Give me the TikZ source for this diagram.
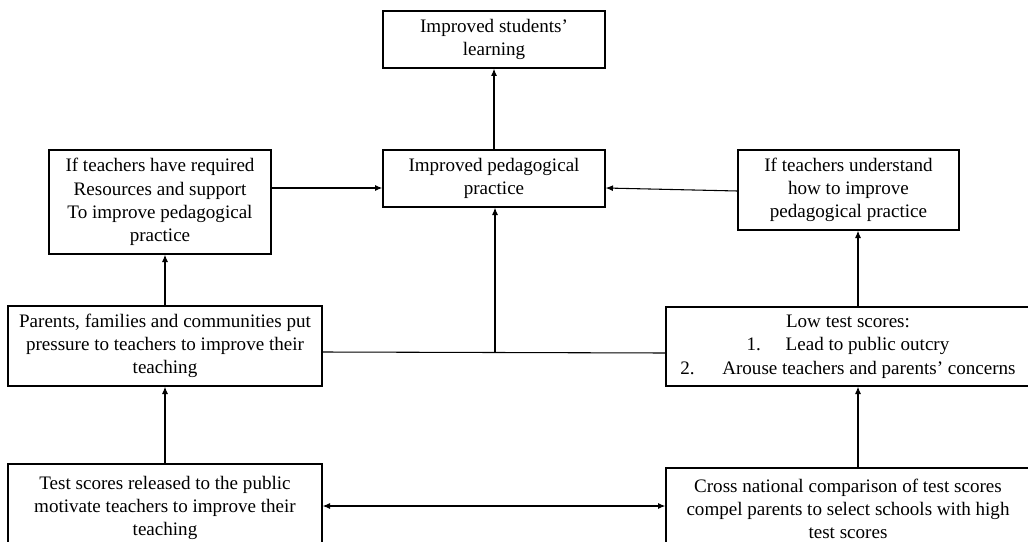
\documentclass[tikz,border=0pt]{standalone}
\usepackage{fontspec}
\setmainfont{Liberation Serif}
\usetikzlibrary{arrows.meta,calc}
\begin{document}
\begin{tikzpicture}[x=0.75pt,y=-0.75pt,
  box/.style={draw, line width=1pt, rectangle, inner sep=0pt, align=center, font=\fontsize{14.3}{17.5}\selectfont},
  arr/.style={line width=0.8pt, -{Latex[length=5.5pt,width=4.5pt]}},
  dblarr/.style={line width=0.8pt, {Latex[length=5.5pt,width=4.5pt]}-{Latex[length=5.5pt,width=4.5pt]}},
  link/.style={line width=0.8pt}]
\useasboundingbox (0,0) rectangle (1028,542);
\fill[white] (0,0) rectangle (1028,542);
\clip (0,0) rectangle (1028,542);

\node[box, minimum width=166.5pt, minimum height=42.75pt] (A) at (494,39.5) {Improved students'\\learning};
\node[box, minimum width=166.5pt, minimum height=42.75pt] (B) at (494,178.5) {Improved pedagogical\\practice};
\node[box, minimum width=166.5pt, minimum height=78pt] (C) at (160,202) {If teachers have required\\Resources and support\\To improve pedagogical\\practice};
\node[box, minimum width=165.75pt, minimum height=60pt] (D) at (848.5,190) {If teachers understand\\how to improve\\pedagogical practice};
\node[box, minimum width=235.5pt, minimum height=60pt] (E) at (165,346) {Parents, families and communities put\\pressure to teachers to improve their\\teaching};
\node[box, minimum width=273pt, minimum height=59.25pt] (F) at (848,346.5) {Low test scores:\\1.\hspace{1.3em}Lead to public outcry\\2.\hspace{1.45em}Arouse teachers and parents' concerns};
\node[box, minimum width=235.5pt, minimum height=66pt] (G) at (165,508) {Test scores released to the public\\motivate teachers to improve their\\teaching};
\node[box, minimum width=273pt, minimum height=61.5pt] (H) at (848,509) {Cross national comparison of test scores\\compel parents to select schools with high\\test scores};

\coordinate (J) at (495,352.5);
\coordinate (FD) at ($(F.north)+(10,0)$);
\coordinate (HF) at ($(H.north)+(10,0)$);

\draw[arr] (B.north) -- (A.south);
\draw[arr] ($(C.east)+(0,-14)$) -- ($(B.west)+(0,9.5)$);
\draw[arr] ($(D.west)+(0,1)$) -- ($(B.east)+(0,9.5)$);
\draw[arr] (E.north) -- (E.north |- C.south);
\draw[link] ($(E.east)+(0,6)$) -- (J) -- ($(F.west)+(0,6.5)$);
\draw[arr] (J) -- (J |- B.south);
\draw[arr] (FD) -- (FD |- D.south);
\draw[arr] (HF) -- (HF |- F.south);
\draw[arr] (G.north) -- (E.south);
\draw[dblarr] ($(G.east)+(0,-2)$) -- ($(H.west)+(0,-3)$);
\end{tikzpicture}
\end{document}
